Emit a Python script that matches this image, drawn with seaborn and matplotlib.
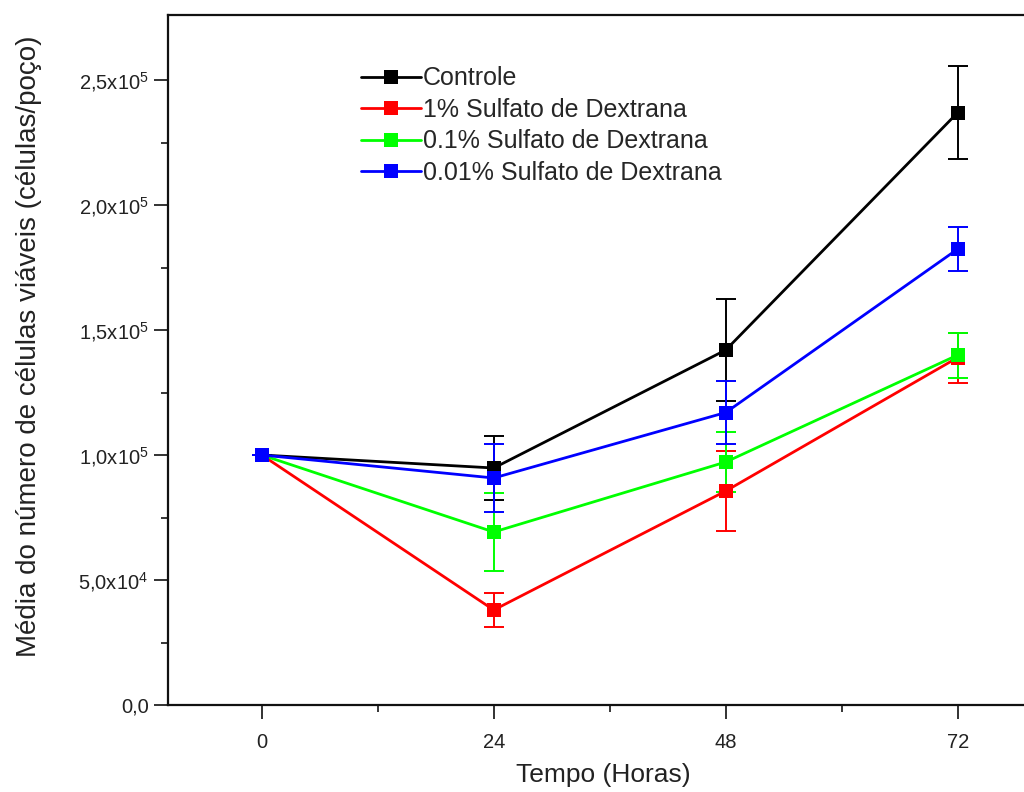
import matplotlib

matplotlib.use("Agg")
import matplotlib.pyplot as plt
import pandas as pd
import seaborn as sns

# ---------------------------------------------------------------------------
# Data
# ---------------------------------------------------------------------------
hours = [0, 24, 48, 72]
series_names = [
    "Controle",
    "1% Sulfato de Dextrana",
    "0.1% Sulfato de Dextrana",
    "0.01% Sulfato de Dextrana",
]
controle = [1.0e5, 0.948e5, 1.42e5, 2.37e5]
controle_err = [0, 0.128e5, 0.204e5, 0.186e5]
sd_1 = [1.0e5, 0.38e5, 0.856e5, 1.39e5]
sd_1_err = [0, 0.068e5, 0.16e5, 0.10e5]
sd_01 = [1.0e5, 0.692e5, 0.972e5, 1.40e5]
sd_01_err = [0, 0.156e5, 0.12e5, 0.09e5]
sd_001 = [1.0e5, 0.908e5, 1.17e5, 1.824e5]
sd_001_err = [0, 0.136e5, 0.126e5, 0.088e5]
colors = ["#000000", "#ff0000", "#00ff00", "#0000ff"]

y_ticks = [0, 5e4, 1e5, 1.5e5, 2e5, 2.5e5]
y_tick_labels = ["0,0", r"5,0x10$^4$", r"1,0x10$^5$", r"1,5x10$^5$",
                 r"2,0x10$^5$", r"2,5x10$^5$"]
x_ticks = [0, 24, 48, 72]

values = [controle, sd_1, sd_01, sd_001]
errors = [controle_err, sd_1_err, sd_01_err, sd_001_err]

df = pd.DataFrame(
    [
        {"Tempo": h, "valor": v, "erro": e, "grupo": name}
        for name, vals, errs in zip(series_names, values, errors)
        for h, v, e in zip(hours, vals, errs)
    ]
)

# ---------------------------------------------------------------------------
# Plot
# ---------------------------------------------------------------------------
sns.set_theme(style="ticks")
plt.rcParams["font.family"] = ["Liberation Sans", "DejaVu Sans"]
plt.rcParams["mathtext.fontset"] = "custom"
plt.rcParams["mathtext.rm"] = "Liberation Sans"
plt.rcParams["mathtext.it"] = "Liberation Sans"
text_color = "#222222"

fig = plt.figure(figsize=(10.24, 7.92), dpi=100)
ax = fig.add_axes([168 / 1024, 87 / 792, 870 / 1024, 690 / 792])

palette = dict(zip(series_names, colors))
for name in series_names:
    sub = df[df["grupo"] == name]
    ax.errorbar(sub["Tempo"], sub["valor"], yerr=sub["erro"], fmt="none",
                ecolor=palette[name], elinewidth=1.4, capsize=7, capthick=1.4,
                zorder=2)

sns.lineplot(data=df, x="Tempo", y="valor", hue="grupo", hue_order=series_names,
             palette=palette, marker="s", markersize=10.5, markeredgewidth=0,
             linewidth=2.0, ax=ax, zorder=3)

ax.set_xlim(-9.7, 80.3)
ax.set_ylim(0, 2.76e5)
ax.set_xticks(x_ticks)
ax.set_xticks([12, 36, 60], minor=True)
ax.set_xticklabels([str(x) for x in x_ticks])
ax.set_yticks(y_ticks)
ax.set_yticks([2.5e4, 7.5e4, 1.25e5, 1.75e5, 2.25e5], minor=True)
ax.set_yticklabels(y_tick_labels)
ax.tick_params(axis="both", which="major", direction="out", length=10, width=1.3,
               labelsize=14.5, colors="#222222")
ax.tick_params(axis="y", which="major", pad=4)
ax.tick_params(axis="x", which="major", pad=10)
ax.tick_params(axis="both", which="minor", direction="out", length=5, width=1.3)
for spine in ax.spines.values():
    spine.set_linewidth(1.6)
    spine.set_color("#111111")

ax.set_xlabel("Tempo (Horas)", fontsize=19, color=text_color, labelpad=8)
ax.set_ylabel("Média do número de células viáveis (células/poço)", fontsize=20,
              color=text_color)
ax.yaxis.set_label_coords(-0.145, 0.52)

ax.legend(frameon=False, loc="upper left", bbox_to_anchor=(0.21, 0.94),
          fontsize=18, handlelength=2.4, handletextpad=0.1, labelspacing=0.3,
          borderaxespad=0)

fig.savefig("out.png", dpi=100)
